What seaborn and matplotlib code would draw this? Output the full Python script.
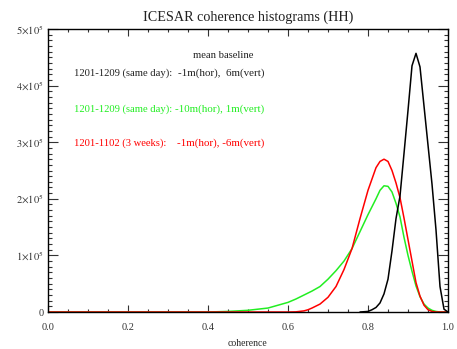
import numpy as np
import pandas as pd
import matplotlib
matplotlib.use("Agg")
import matplotlib.pyplot as plt
from matplotlib.ticker import MultipleLocator
import seaborn as sns

# histogram values (counts in units of 1e5)
coh_black = [0.78, 0.80, 0.81, 0.82, 0.83, 0.84, 0.85, 0.86, 0.87, 0.88, 0.89, 0.90,
             0.91, 0.92, 0.93, 0.94, 0.95, 0.96, 0.97, 0.98, 0.99, 1.00]
cnt_black = [0.0, 0.01, 0.04, 0.08, 0.16, 0.32, 0.58, 1.08, 1.65, 2.05, 2.80, 3.56,
             4.35, 4.57, 4.33, 3.64, 2.95, 2.26, 1.45, 0.45, 0.05, 0.0]

coh_green = [0.0, 0.40, 0.45, 0.50, 0.55, 0.60, 0.62, 0.64, 0.66, 0.68, 0.70, 0.72, 0.74,
             0.76, 0.78, 0.80, 0.82, 0.83, 0.84, 0.85, 0.86, 0.87, 0.88, 0.89, 0.90,
             0.91, 0.92, 0.93, 0.94, 0.95, 0.96, 0.97, 0.98, 1.00]
cnt_green = [0.0, 0.0, 0.01, 0.03, 0.07, 0.17, 0.23, 0.30, 0.37, 0.45, 0.58, 0.73, 0.90,
             1.12, 1.42, 1.72, 2.00, 2.15, 2.23, 2.22, 2.12, 1.92, 1.68, 1.32, 1.00,
             0.72, 0.46, 0.27, 0.14, 0.07, 0.03, 0.01, 0.0, 0.0]

coh_red = [0.0, 0.60, 0.62, 0.64, 0.65, 0.66, 0.68, 0.70, 0.72, 0.74, 0.76, 0.78, 0.80,
           0.82, 0.83, 0.84, 0.85, 0.86, 0.87, 0.88, 0.89, 0.90, 0.91, 0.92, 0.93,
           0.94, 0.95, 0.96, 0.97, 1.00]
cnt_red = [0.0, 0.0, 0.003, 0.02, 0.04, 0.07, 0.14, 0.26, 0.45, 0.75, 1.12, 1.65, 2.15,
           2.55, 2.66, 2.70, 2.66, 2.50, 2.28, 2.02, 1.66, 1.28, 0.90, 0.52, 0.28,
           0.12, 0.04, 0.01, 0.0, 0.0]

labels = ["1201-1209 (same day):", "1201-1209 (same day):", "1201-1102 (3 weeks):"]
baselines = ["-1m(hor),  6m(vert)", "-10m(hor), 1m(vert)", "-1m(hor), -6m(vert)"]
colors = ["#222222", "#22ee22", "#ff0000"]

sns.set_style("ticks")
plt.rcParams['font.family'] = ['Liberation Serif', 'DejaVu Serif']
plt.rcParams['mathtext.fontset'] = 'stix'

fig = plt.figure(figsize=(4.57, 3.49), dpi=100)
ax = fig.add_axes([48/457, 1-312/349, 400/457, 283/349])

for coh, cnt, c in [(coh_green, cnt_green, colors[1]), (coh_red, cnt_red, colors[2]),
                    (coh_black, cnt_black, "black")]:
    d = pd.DataFrame({"coherence": coh, "count": np.array(cnt) * 1e5})
    sns.lineplot(data=d, x="coherence", y="count", color=c, lw=1.1, ax=ax,
                 sort=False, estimator=None)

ax.set_xlim(0, 1)
ax.set_ylim(0, 5e5)
ax.xaxis.set_minor_locator(MultipleLocator(0.05))
ax.yaxis.set_minor_locator(MultipleLocator(1e4))
ax.set_xticks([0, 0.2, 0.4, 0.6, 0.8, 1.0])
ax.set_xticklabels(["0.0", "0.2", "0.4", "0.6", "0.8", "1.0"])
ax.set_yticks([0, 1e5, 2e5, 3e5, 4e5, 5e5])
ax.set_yticklabels(["0"] + [r"$%d{\times}10^5$" % i for i in range(1, 6)])
ax.tick_params(which="both", direction="in", top=True, right=True, labelsize=7.5,
               colors="#333333", width=0.8)
ax.tick_params(axis="x", which="major", length=5, pad=8)
ax.tick_params(axis="x", which="minor", length=2.5)
ax.tick_params(axis="y", which="major", length=7, pad=3)
ax.tick_params(axis="y", which="minor", length=3)
for s in ax.spines.values():
    s.set_linewidth(1.0)
    s.set_color("black")

ax.set_xlabel("coherence", fontsize=7, labelpad=5)
ax.set_ylabel("")
ax.set_title("ICESAR coherence histograms (HH)", fontsize=10.2, pad=6, color="#222222")

ax.text(223/457, 1 - 55.7/349, "mean baseline", transform=fig.transFigure,
        fontsize=7.7, ha="center", va="center", color="#222222")
for i, (lab, bl, c) in enumerate(zip(labels, baselines, colors)):
    y = [73, 109, 143][i]
    ax.text(74/457, 1 - y/349, lab, transform=fig.transFigure, fontsize=7.7,
            color=c, va="center", ha="left")
    ax.text(264/457, 1 - y/349, bl, transform=fig.transFigure, fontsize=7.9,
            color=c, va="center", ha="right")

fig.savefig("out.png", dpi=100)
